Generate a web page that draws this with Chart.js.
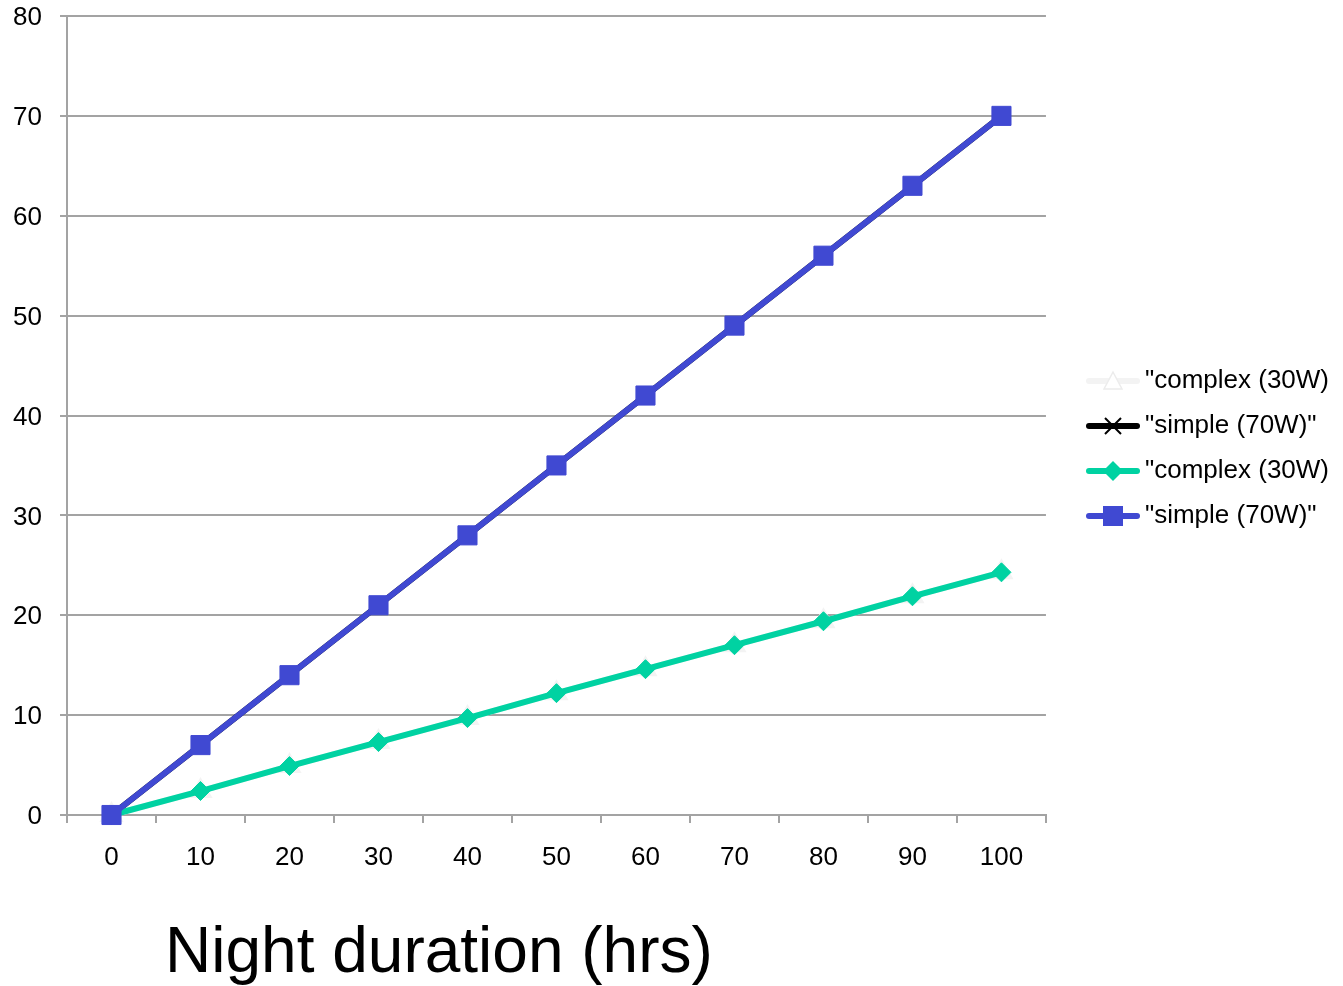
<!DOCTYPE html>
<html>
<head>
<meta charset="utf-8">
<script src="https://cdn.jsdelivr.net/npm/chart.js@4"></script>
<style>
  html, body { margin: 0; padding: 0; background: #fff; overflow: hidden; }
  canvas { display: block; }
</style>
</head>
<body>
<canvas id="myChart" width="1343" height="986"></canvas>
<script>
const hours = ["0", "10", "20", "30", "40", "50", "60", "70", "80", "90", "100"];
const complex30W = [0, 2.4, 4.9, 7.3, 9.7, 12.2, 14.6, 17.0, 19.4, 21.9, 24.3];
const simple70W = [0, 7, 14, 21, 28, 35, 42, 49, 56, 63, 70];
const seriesLabels = ['"complex (30W)', '"simple (70W)"', '"complex (30W)', '"simple (70W)"'];
const yMin = 0;
const yMax = 80;
const yStep = 10;
const xTitle = "Night duration (hrs)";

const FONT = "'Liberation Sans', Arial, Helvetica, sans-serif";
const GRID = "#a3a3a3";
const GREEN = "#00d2a2";
const BLUE = "#4049d2";

Chart.defaults.font.family = FONT;
Chart.defaults.color = "#000";

// little "line + marker" pictures for the legend
function legendIcon(color, marker) {
  const c = document.createElement("canvas");
  c.width = 83;
  c.height = 26;
  const g = c.getContext("2d");
  g.strokeStyle = color;
  g.lineWidth = 6;
  g.lineCap = "round";
  g.beginPath();
  g.moveTo(32, 13);
  g.lineTo(80, 13);
  g.stroke();
  const cx = 56, cy = 13;
  g.fillStyle = color;
  if (marker === "square") {
    g.fillRect(cx - 10, cy - 10, 20, 20);
  } else if (marker === "diamond") {
    g.beginPath();
    g.moveTo(cx, cy - 10);
    g.lineTo(cx + 10, cy);
    g.lineTo(cx, cy + 10);
    g.lineTo(cx - 10, cy);
    g.closePath();
    g.fill();
  } else if (marker === "cross") {
    g.lineWidth = 2;
    g.lineCap = "butt";
    g.beginPath();
    g.moveTo(cx - 8, cy - 8);
    g.lineTo(cx + 8, cy + 8);
    g.moveTo(cx + 8, cy - 8);
    g.lineTo(cx - 8, cy + 8);
    g.stroke();
  } else if (marker === "triangle") {
    g.fillStyle = "#fff";
    g.strokeStyle = "#ececec";
    g.lineWidth = 1.5;
    g.beginPath();
    g.moveTo(cx, cy - 9);
    g.lineTo(cx + 9, cy + 8);
    g.lineTo(cx - 9, cy + 8);
    g.closePath();
    g.fill();
    g.stroke();
  }
  return c;
}

const icons = [
  legendIcon("#f3f3f3", "triangle"),
  legendIcon("#000000", "cross"),
  legendIcon(GREEN, "diamond"),
  legendIcon(BLUE, "square"),
];

const axisTitle = {
  id: "axisTitle",
  afterDraw(chart) {
    const c = chart.ctx;
    c.save();
    c.font = "64px " + FONT;
    c.fillStyle = "#000";
    c.textBaseline = "alphabetic";
    c.textAlign = "left";
    c.fillText(xTitle, 165, 972);
    c.restore();
  },
};

const ctx = document.getElementById("myChart").getContext("2d");

const myChart = new Chart(ctx, {
  type: "line",
  data: {
    labels: hours,
    datasets: [
      {
        label: seriesLabels[0],
        data: complex30W,
        borderColor: "#f3f3f3",
        backgroundColor: "#ffffff",
        borderWidth: 6,
        pointStyle: "triangle",
        pointRadius: 8,
        order: 4,
      },
      {
        label: seriesLabels[1],
        data: simple70W,
        borderColor: "#000000",
        backgroundColor: "#000000",
        borderWidth: 6,
        pointStyle: "crossRot",
        pointRadius: 8,
        order: 3,
      },
      {
        label: seriesLabels[2],
        data: complex30W,
        borderColor: GREEN,
        backgroundColor: GREEN,
        pointBorderColor: GREEN,
        borderWidth: 6,
        pointStyle: "rectRot",
        pointRadius: 9.5,
        pointBorderWidth: 1,
        order: 2,
      },
      {
        label: seriesLabels[3],
        data: simple70W,
        borderColor: BLUE,
        backgroundColor: BLUE,
        pointBorderColor: BLUE,
        borderWidth: 6,
        pointStyle: "rect",
        pointRadius: 13.5,
        pointBorderWidth: 1,
        order: 1,
      },
    ],
  },
  options: {
    responsive: false,
    animation: false,
    clip: false,
    layout: {
      padding: { top: 1, right: 4, bottom: 90, left: 13 },
    },
    elements: {
      line: { tension: 0 },
    },
    scales: {
      x: {
        offset: true,
        grid: {
          offset: true,
          drawOnChartArea: false,
          drawTicks: true,
          tickLength: 8,
          color: GRID,
          lineWidth: 2,
        },
        border: { display: true, color: GRID, width: 2 },
        ticks: {
          font: { size: 26 },
          padding: 19,
          maxRotation: 0,
          autoSkip: false,
        },
        afterFit: (scale) => {
          scale.height = 81;
        },
      },
      y: {
        min: yMin,
        max: yMax,
        ticks: {
          stepSize: yStep,
          font: { size: 26 },
          padding: 18,
          labelOffset: 2,
        },
        grid: {
          color: GRID,
          lineWidth: 2,
          tickLength: 7,
        },
        border: { display: true, color: GRID, width: 2 },
        afterFit: (scale) => {
          scale.width = 54;
          scale.paddingTop = 16;
          scale.paddingBottom = 16;
        },
      },
    },
    plugins: {
      tooltip: { enabled: false },
      legend: {
        position: "right",
        labels: {
          usePointStyle: true,
          pointStyleWidth: 67,
          padding: 19,
          font: { size: 26 },
          generateLabels: (chart) =>
            chart.data.datasets.map((ds, i) => ({
              text: ds.label,
              pointStyle: icons[i],
              datasetIndex: i,
              fontColor: "#000",
              hidden: false,
              lineWidth: 0,
              strokeStyle: "transparent",
              fillStyle: "transparent",
            })),
        },
      },
    },
  },
  plugins: [axisTitle],
});
</script>
</body>
</html>
